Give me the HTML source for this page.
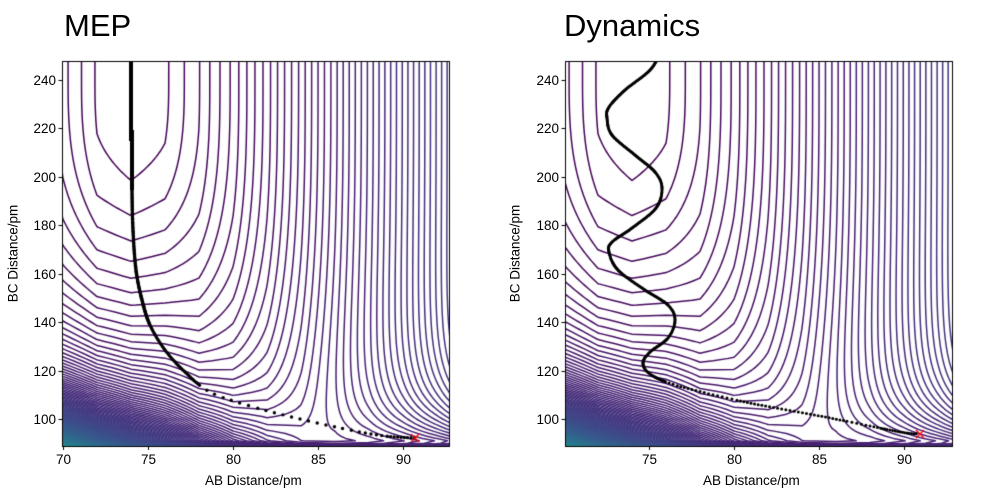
<!DOCTYPE html>
<html><head><meta charset="utf-8"><style>
body{margin:0;background:#fff;}
#w{position:relative;width:1000px;height:500px;overflow:hidden;font-family:"Liberation Sans","DejaVu Sans",sans-serif;color:#000;}
canvas{position:absolute;left:0;top:0;}
.t{position:absolute;font-size:13.5px;line-height:14px;white-space:nowrap;}
.ti{position:absolute;font-size:31px;top:8px;}
.yl{position:absolute;font-size:13.5px;transform:rotate(-90deg);transform-origin:center;white-space:nowrap;}
</style></head><body><div id="w">
<canvas id="c" width="1000" height="500"></canvas>
<div class="ti" style="left:64px">MEP</div>
<div class="ti" style="left:564px">Dynamics</div>
<div class="t" style="left:205px;top:474px">AB Distance/pm</div>
<div class="t" style="left:703px;top:474px">AB Distance/pm</div>
<div class="yl" style="left:-42px;top:246px;width:110px;text-align:center">BC Distance/pm</div>
<div class="yl" style="left:460px;top:246px;width:110px;text-align:center">BC Distance/pm</div>
<div id="labels"></div>
</div>
<script>
var cv=document.getElementById('c'),ctx=cv.getContext('2d');
var labels=document.getElementById('labels'),html='';
function yp(v){return 419-(v-100)*2.425;}
function aR(dx){var d=17*dx; if(d>=0){return 30*(Math.sqrt(1+(d/150)*(d/150))-1);} var d2=d/37;return d2*d2;}
function rep(y){var r=(240-y)/42;return r>0?Math.pow(r,2.3):0;}
function f(x,y){
  var s=1-0.45*Math.exp(-(y-90)/15);
  var a=aR(x-74)*s;
  var g=Math.exp(-Math.max(0,x-76)/8);
  var r=rep(y)*g,p=1.2;
  var base=Math.pow(Math.pow(a,p)+Math.pow(r,p),1/p);
  var u=(x-70)*17,w=(y-88.9)*2.425;
  base+=95*Math.exp(-(0.35*u+w)/34);
  if(y<91)base+=1.5*(91-y)*(91-y);
  return base;
}
var vir=[[0,68,1,84],[0.1,72,36,117],[0.2,65,68,135],[0.3,53,95,141],[0.4,42,120,142],[0.5,33,145,140]];
function col(t){t=Math.max(0,Math.min(0.5,t));for(var i=0;i<vir.length-1;i++){if(t<=vir[i+1][0]){var a=vir[i],b=vir[i+1],u=(t-a[0])/(b[0]-a[0]);return 'rgb('+Math.round(a[1]+u*(b[1]-a[1]))+','+Math.round(a[2]+u*(b[2]-a[2]))+','+Math.round(a[3]+u*(b[3]-a[3]))+')';}}return 'rgb(33,145,140)';}
function plot(X0,X1,x70,xt){
  var Y0=61,Y1=446;
  ctx.save();ctx.beginPath();ctx.rect(X0,Y0,X1-X0,Y1-Y0);ctx.clip();
  var xs=[],ys=[];
  for(var x=68;x<=94.01;x+=2)xs.push(x);
  for(var y=86;y<=252.01;y+=1)ys.push(y);
  function PX(x){return x70+(x-70)*17;}
  var G=[];for(var j=0;j<ys.length;j++){G[j]=[];for(var i=0;i<xs.length;i++)G[j][i]=f(xs[i],ys[j]);}
  var segs={};
  function add(l,a,b,c,d){(segs[l]=segs[l]||[]).push([a,b,c,d]);}
  for(var j=0;j<ys.length-1;j++)for(var i=0;i<xs.length-1;i++){
    var v0=G[j][i],v1=G[j][i+1],v2=G[j+1][i+1],v3=G[j+1][i];
    var mn=Math.min(v0,v1,v2,v3),mx=Math.max(v0,v1,v2,v3);
    var xa=PX(xs[i]),xb=PX(xs[i+1]),ya=yp(ys[j]),yb=yp(ys[j+1]);
    for(var l=Math.ceil(mn);l<=mx&&l<200;l++){
      var pts=[];
      var e=function(va,vb,x1,y1,x2,y2){if((va<l)!=(vb<l)){var u=(l-va)/(vb-va);pts.push([x1+u*(x2-x1),y1+u*(y2-y1)]);}};
      e(v0,v1,xa,ya,xb,ya);e(v1,v2,xb,ya,xb,yb);e(v2,v3,xb,yb,xa,yb);e(v3,v0,xa,yb,xa,ya);
      if(pts.length>=2)add(l,pts[0][0],pts[0][1],pts[1][0],pts[1][1]);
      if(pts.length==4)add(l,pts[2][0],pts[2][1],pts[3][0],pts[3][1]);
    }
  }
  ctx.lineWidth=1.5;ctx.lineCap='round';
  for(var l in segs){ctx.strokeStyle=col((+l)/260);ctx.beginPath();var s=segs[l];for(var k=0;k<s.length;k++){ctx.moveTo(s[k][0],s[k][1]);ctx.lineTo(s[k][2],s[k][3]);}ctx.stroke();}
  ctx.restore();
  ctx.strokeStyle='#000';ctx.lineWidth=1;ctx.strokeRect(X0+0.5,Y0+0.5,X1-X0,Y1-Y0);
  ctx.beginPath();
  for(var v=100;v<=240;v+=20){var y=Math.round(yp(v))+0.5;ctx.moveTo(X0-3.5,y);ctx.lineTo(X0,y);html+='<div class="t" style="left:'+(X0-30)+'px;top:'+(y-7)+'px;width:24px;text-align:right">'+v+'</div>';}
  for(var k=0;k<xt.length;k++){var x=Math.round(x70+(xt[k]-70)*17)+0.5;ctx.moveTo(x,Y1+0.5);ctx.lineTo(x,Y1+4);html+='<div class="t" style="left:'+(x-10)+'px;top:'+(Y1+7)+'px;width:20px;text-align:center">'+xt[k]+'</div>';}
  ctx.stroke();
}
plot(62,449,63,[70,75,80,85,90]);
plot(565,952,564,[75,80,85,90]);
labels.innerHTML=html;
function cr(P,n){var out=[];for(var i=0;i<P.length-1;i++){var p0=P[Math.max(0,i-1)],p1=P[i],p2=P[i+1],p3=P[Math.min(P.length-1,i+2)];for(var k=0;k<n;k++){var t=k/n,t2=t*t,t3=t2*t;out.push([0.5*((2*p1[0])+(-p0[0]+p2[0])*t+(2*p0[0]-5*p1[0]+4*p2[0]-p3[0])*t2+(-p0[0]+3*p1[0]-3*p2[0]+p3[0])*t3),0.5*((2*p1[1])+(-p0[1]+p2[1])*t+(2*p0[1]-5*p1[1]+4*p2[1]-p3[1])*t2+(-p0[1]+3*p1[1]-3*p2[1]+p3[1])*t3)]);}}out.push(P[P.length-1]);return out;}
function dots(pts,spacingFn,r){
  ctx.fillStyle='#000';var acc=0,prev=pts[0];
  ctx.beginPath();ctx.arc(prev[0],prev[1],r,0,7);ctx.fill();
  for(var i=1;i<pts.length;i++){var dx=pts[i][0]-prev[0],dy=pts[i][1]-prev[1],d=Math.sqrt(dx*dx+dy*dy);acc+=d;prev=pts[i];
    if(acc>=spacingFn(pts[i])){acc=0;ctx.beginPath();ctx.arc(pts[i][0],pts[i][1],r,0,7);ctx.fill();}}
}
ctx.save();ctx.beginPath();ctx.rect(62,61,387,385);ctx.clip();
ctx.fillStyle='#000';ctx.fillRect(129,61,4,80);ctx.fillRect(130,130,4,60);
var mep=cr([[132,140],[132,190],[133,230],[136,270],[142,300],[150,325],[165,350],[185,372],[210,392],[250,406],[300,419],[350,430],[385,436],[415,438]],30);
dots(mep,function(p){var x=p[0];if(x<150)return 0.8;if(x<200)return 1.8;if(x<360)return 8;if(x<390)return 5;return 3;},1.7);
ctx.restore();
ctx.save();ctx.beginPath();ctx.rect(565,61,387,385);ctx.clip();
var dyn=cr([[662,50],[650,70],[625,90],[609,107],[607,118],[612,135],[635,155],[655,172],[662,188],[656,208],[632,228],[612,242],[609,252],[618,270],[645,290],[668,305],[675,320],[668,338],[650,352],[643,363],[650,374],[672,384],[710,394],[760,405],[820,416],[870,426],[900,432],[918,434]],30);
dots(dyn,function(p){return p[1]<382?0.7:(p[0]<880?3.5:2);},1.5);
ctx.restore();
function rx(x,y){ctx.strokeStyle='#ff0000';ctx.lineWidth=1.2;ctx.beginPath();ctx.moveTo(x-4,y-4);ctx.lineTo(x+4,y+4);ctx.moveTo(x+4,y-4);ctx.lineTo(x-4,y+4);ctx.stroke();}
rx(415,438);rx(920,434);
</script>
</body></html>
